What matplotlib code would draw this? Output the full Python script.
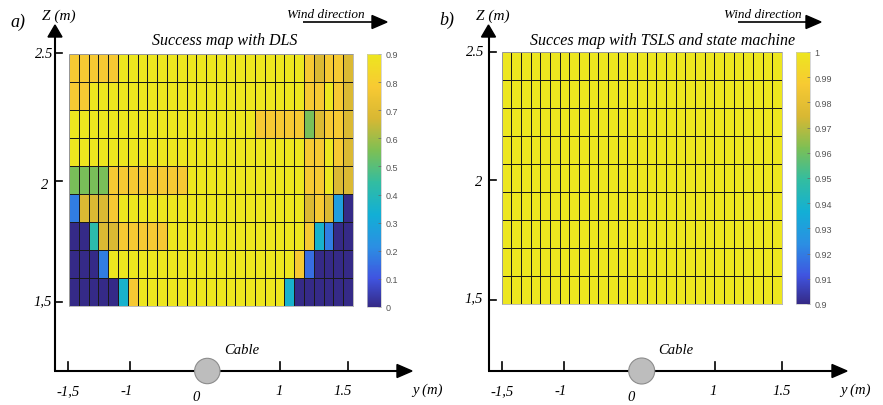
import matplotlib
matplotlib.use('Agg')
import matplotlib.pyplot as plt
import numpy as np
from matplotlib.colors import LinearSegmentedColormap
from matplotlib.patches import Circle, Polygon

# success rate per cell, rows from top (z = 2.5) down to z = 1.5, 29 lateral positions
dls_success = [
    [.78, .78, .78, .78, .78, 1, 1, 1, 1, 1, 1, 1, 1, 1, 1, 1, 1, 1, 1, 1, 1, 1, 1, 1, .78, .68, .78, .78, .68],
    [.78, .78, 1, 1, 1, 1, 1, 1, 1, 1, 1, 1, 1, 1, 1, 1, 1, 1, 1, 1, 1, 1, 1, 1, .78, .78, 1, .78, .68],
    [1, 1, 1, 1, 1, 1, 1, 1, 1, 1, 1, 1, 1, 1, 1, 1, 1, 1, 1, .78, .78, .78, .78, .78, .55, .68, .78, .78, .68],
    [1, 1, 1, 1, 1, 1, 1, 1, 1, 1, 1, 1, 1, 1, 1, 1, 1, 1, 1, 1, 1, 1, 1, 1, .78, .78, 1, .78, .68],
    [.55, .55, .55, .55, .78, .78, .78, .78, .78, .78, .78, .78, 1, 1, 1, 1, 1, 1, 1, 1, 1, 1, 1, 1, .78, .78, 1, .68, .68],
    [.18, .68, .68, .68, .78, 1, 1, 1, 1, 1, 1, 1, 1, 1, 1, 1, 1, 1, 1, 1, 1, 1, 1, 1, .68, .78, .68, .27, 0],
    [0, 0, .42, .68, .68, .78, .78, .78, .78, .78, 1, 1, 1, 1, 1, 1, 1, 1, 1, 1, 1, 1, 1, 1, .78, .35, .18, 0, 0],
    [0, 0, 0, .18, 1, 1, 1, 1, 1, 1, 1, 1, 1, 1, 1, 1, 1, 1, 1, 1, 1, 1, 1, .78, .15, 0, 0, 0, 0],
    [0, 0, 0, 0, 0, .35, .78, 1, 1, 1, 1, 1, 1, 1, 1, 1, 1, 1, 1, 1, 1, 1, .35, 0, 0, 0, 0, 0, 0],
]
# with TSLS + state machine every cell succeeds
tsls_success = [[1.0] * 29 for _ in range(9)]

dls_cbar_ticks = [0, 0.1, 0.2, 0.3, 0.4, 0.5, 0.6, 0.7, 0.8, 0.9]
dls_cbar_labels = ['0', '0.1', '0.2', '0.3', '0.4', '0.5', '0.6', '0.7', '0.8', '0.9']
tsls_cbar_ticks = [0.9, 0.91, 0.92, 0.93, 0.94, 0.95, 0.96, 0.97, 0.98, 0.99, 1.0]
tsls_cbar_labels = ['0.9', '0.91', '0.92', '0.93', '0.94', '0.95', '0.96', '0.97', '0.98', '0.99', '1']

z_tick_labels = ['2.5', '2', '1,5']
y_tick_labels = ['-1,5', '-1', '1', '1.5']
titles = ['Success map with DLS', 'Succes map with TSLS and state machine']
panel_tags = ['a)', 'b)']

# parula-like colormap (slightly muted like the scanned figure)
parula = LinearSegmentedColormap.from_list('parula', [
    (0.000, (0.2081, 0.1663, 0.5292)),
    (0.111, (0.2500, 0.3300, 0.8800)),
    (0.238, (0.1700, 0.5600, 0.8900)),
    (0.365, (0.0700, 0.6865, 0.8370)),
    (0.492, (0.1959, 0.7400, 0.6306)),
    (0.619, (0.4900, 0.7500, 0.3300)),
    (0.746, (0.8500, 0.7200, 0.2000)),
    (0.873, (0.9700, 0.7900, 0.2000)),
    (1.000, (0.9300, 0.9000, 0.1200)),
])

W, H = 883, 406
fig = plt.figure(figsize=(W / 100, H / 100), dpi=100)
serif = {'family': 'Liberation Serif', 'style': 'italic'}


def box(x0, x1, y0, y1):
    return [x0 / W, 1 - y1 / H, (x1 - x0) / W, (y1 - y0) / H]


# pixel layout of the two panels
panels = [
    dict(data=dls_success, vmin=0, vmax=0.9, ticks=dls_cbar_ticks, labels=dls_cbar_labels,
         heat=(69, 353, 55, 307), cbar=(367, 381, 55, 308),
         ax_x=55, ax_top=26, ax_y=372, ax_right=412,
         zt=[54, 182, 303], zl=[(53, 54), (48, 186), (52, 302)],
         yt=[68, 130, 280, 347.5], yl=[68, 127, 279, 343],
         zero=(196, 398), cable=(207.3, 12.7), ym=(427, 390),
         tag=(18, 22), zm=(59, 16), wind=(303, 387, 23), windtxt=(326, 15), title=(225, 41)),
    dict(data=tsls_success, vmin=0.9, vmax=1.0, ticks=tsls_cbar_ticks, labels=tsls_cbar_labels,
         heat=(501.7, 782, 53, 305), cbar=(796, 810, 53, 305),
         ax_x=488.5, ax_top=26, ax_y=372, ax_right=847,
         zt=[53, 181, 301], zl=[(484, 53), (482, 183), (483, 299)],
         yt=[501.7, 564, 715, 782.3], yl=[502, 561, 713, 782],
         zero=(631, 398), cable=(641.7, 13), ym=(855, 390),
         tag=(447, 20), zm=(493, 16), wind=(738, 821, 23), windtxt=(763, 15), title=(663, 41)),
]

over = fig.add_axes([0, 0, 1, 1], zorder=5)
over.set_xlim(0, W)
over.set_ylim(H, 0)
over.axis('off')

for i, p in enumerate(panels):
    ax = fig.add_axes(box(*p['heat']))
    arr = np.array(p['data'])
    nz, ny = arr.shape
    y_edges = np.linspace(-1.5, 1.5, ny + 1)
    z_edges = np.linspace(1.5, 2.5, nz + 1)
    mesh = ax.pcolormesh(y_edges, z_edges, arr[::-1], cmap=parula, vmin=p['vmin'], vmax=p['vmax'],
                         edgecolors='#1a1a1a', linewidth=0.6)
    ax.set_xlim(-1.5, 1.5)
    ax.set_ylim(1.5, 2.5)
    ax.set_xticks([])
    ax.set_yticks([])
    for s in ax.spines.values():
        s.set_color('#b0b0b0')
        s.set_linewidth(0.6)

    cax = fig.add_axes(box(*p['cbar']))
    cb = fig.colorbar(mesh, cax=cax)
    cb.set_ticks(p['ticks'])
    cb.set_ticklabels(p['labels'])
    cb.outline.set_edgecolor('#c8c8c8')
    cb.outline.set_linewidth(0.5)
    cax.tick_params(direction='in', length=2.5, width=0.5, color='#666666',
                    labelsize=6.5, labelcolor='#555555', pad=3)
    for t in cax.get_yticklabels():
        t.set_family('Liberation Sans')

    # hand-drawn axes
    x0, ytop, ybase, xr = p['ax_x'], p['ax_top'], p['ax_y'], p['ax_right']
    over.plot([x0, x0], [ybase, ytop + 10], color='k', lw=1.5, solid_capstyle='butt')
    over.add_patch(Polygon([[x0 - 7, ytop + 12], [x0 + 7, ytop + 12], [x0, ytop]], color='k'))
    over.plot([x0 - 1, xr - 12], [ybase, ybase], color='k', lw=1.5, solid_capstyle='butt')
    over.add_patch(Polygon([[xr - 15, ybase - 6.5], [xr - 15, ybase + 6.5], [xr, ybase]], color='k'))
    for zt, lab, (lx, ly) in zip(p['zt'], z_tick_labels, p['zl']):
        over.plot([x0, x0 + 7], [zt, zt], color='k', lw=1.2)
        over.text(lx, ly, lab, ha='right', va='center', fontsize=10.5, fontdict=serif)
    for yt, lab, lx in zip(p['yt'], y_tick_labels, p['yl']):
        over.plot([yt, yt], [ybase - 9, ybase], color='k', lw=1.2)
        over.text(lx, 392, lab, ha='center', va='center', fontsize=10.5, fontdict=serif)
    over.text(p['zero'][0], p['zero'][1], '0', ha='center', va='center', fontsize=10.5, fontdict=serif)
    cx, r = p['cable']
    over.add_patch(Circle((cx, ybase), r, facecolor='#bdbdbd', edgecolor='#8c8c8c', lw=0.8, zorder=6))
    over.text(cx + 34, 351, 'Cable', ha='center', va='center', fontsize=10.5, fontdict=serif)
    over.text(p['ym'][0], p['ym'][1], 'y (m)', ha='center', va='center', fontsize=10.5, fontdict=serif)
    over.text(p['zm'][0], p['zm'][1], 'Z (m)', ha='center', va='center', fontsize=11, fontdict=serif)
    over.text(p['tag'][0], p['tag'][1], panel_tags[i], ha='center', va='center', fontsize=13, fontdict=serif)
    over.text(p['title'][0], p['title'][1], titles[i], ha='center', va='center', fontsize=11.5, fontdict=serif)

    # wind direction arrow
    wx0, wx1, wy = p['wind']
    over.plot([wx0, wx1 - 12], [wy, wy], color='k', lw=1.2, solid_capstyle='butt')
    over.add_patch(Polygon([[wx1 - 15, wy - 6.5], [wx1 - 15, wy + 6.5], [wx1, wy]], color='k'))
    over.text(p['windtxt'][0], p['windtxt'][1], 'Wind direction', ha='center', va='center',
              fontsize=9.5, fontdict=serif)

fig.savefig('out.png', dpi=100)
